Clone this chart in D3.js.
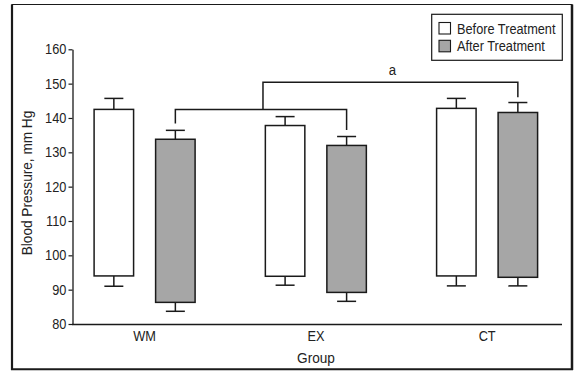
<!DOCTYPE html>
<html><head><meta charset="utf-8">
<script src="https://cdn.jsdelivr.net/npm/d3@7"></script>
<style>
body{margin:0;background:#fff;}
svg{display:block;font-family:"Liberation Sans",Arial,sans-serif;}
</style></head>
<body>
<svg id="chart" width="579" height="380"></svg>
<script>
// ---- data ----
const groups = ["WM", "EX", "CT"];
const seriesNames = ["Before Treatment", "After Treatment"];
const barLow   = { "Before Treatment": [94.0, 93.9, 94.0], "After Treatment": [86.3, 89.2, 93.6] };
const barHigh  = { "Before Treatment": [142.5, 137.8, 142.8], "After Treatment": [133.8, 132.0, 141.6] };
const errLow   = { "Before Treatment": [91.0, 91.3, 91.1], "After Treatment": [83.7, 86.6, 91.1] };
const errHigh  = { "Before Treatment": [145.7, 140.4, 145.7], "After Treatment": [136.4, 134.6, 144.5] };
const yTicks = [80, 90, 100, 110, 120, 130, 140, 150, 160];
const bracketLevels = [142.5, 150.4];
const bracketLegEnds = [[138.4, 136.5], [142.5, 146.0]];
const sigLabel = "a";

// ---- layout ----
const svg = d3.select("#chart");
const fills = { "Before Treatment": "#ffffff", "After Treatment": "#a6a6a6" };
const stroke = "#1a1a1a";
const txt = "#222";
const squeeze = "scale(0.88,1)";

const y = d3.scaleLinear().domain([80, 160]).range([324, 49.3]);
const x0 = d3.scaleBand().domain(groups).range([59, 572.75]).paddingInner(0).paddingOuter(0);
const x1 = d3.scaleBand().domain(seriesNames).range([35.1, 136.1]).paddingInner(0.358).paddingOuter(0);
const cx = (g, s) => x0(g) + x1(s) + x1.bandwidth() / 2;

// frame
svg.append("rect").attr("x", 12).attr("y", 4.5).attr("width", 560).attr("height", 365)
  .attr("fill", "none").attr("stroke", stroke).attr("stroke-width", 1);
svg.append("line").attr("x1", 12).attr("x2", 12).attr("y1", 4.5).attr("y2", 370).attr("stroke", stroke).attr("stroke-width", 2.2);
svg.append("line").attr("x1", 572).attr("x2", 572).attr("y1", 4.5).attr("y2", 370).attr("stroke", stroke).attr("stroke-width", 2.5);
svg.append("line").attr("x1", 11).attr("x2", 573).attr("y1", 369.3).attr("y2", 369.3).attr("stroke", stroke).attr("stroke-width", 2);

// y axis
const yAxis = svg.append("g").attr("transform", "translate(72.5,0)")
  .call(d3.axisLeft(y).tickValues(yTicks).tickSize(4).tickSizeOuter(0).tickPadding(3));
yAxis.select(".domain").attr("stroke", stroke).attr("stroke-width", 1.3);
yAxis.selectAll(".tick line").attr("stroke", stroke).attr("stroke-width", 1.2);
yAxis.selectAll(".tick text").attr("fill", txt).style("font-size", "14.5px")
  .style("font-family", '"Liberation Sans",Arial,sans-serif').attr("transform", squeeze);

// x axis
const xAxis = svg.append("g").attr("transform", "translate(0,324)")
  .call(d3.axisBottom(x0).tickSize(0).tickSizeOuter(0).tickPadding(7));
xAxis.select(".domain").attr("d", "M72,0.5H562").attr("stroke", stroke).attr("stroke-width", 1.3);
xAxis.selectAll(".tick text").attr("fill", txt).style("font-size", "14.5px")
  .style("font-family", '"Liberation Sans",Arial,sans-serif').attr("transform", squeeze);

// axis titles
svg.append("text").attr("transform", `translate(316,362.5) ${squeeze}`).attr("text-anchor", "middle")
  .attr("fill", txt).style("font-size", "15.5px").text("Group");
svg.append("text").attr("transform", `translate(31.5,183) rotate(-90) ${squeeze}`).attr("text-anchor", "middle")
  .attr("fill", txt).style("font-size", "15.5px").text("Blood Pressure, mm Hg");

// bars + error bars
const rows = [];
groups.forEach((g, i) => seriesNames.forEach(s => rows.push({
  g, s, lo: barLow[s][i], hi: barHigh[s][i], eLo: errLow[s][i], eHi: errHigh[s][i]
})));
const capW = 9.5;
const eb = svg.append("g").attr("stroke", stroke).attr("stroke-width", 1.5);
rows.forEach(d => {
  const c = cx(d.g, d.s);
  eb.append("line").attr("x1", c).attr("x2", c).attr("y1", y(d.hi)).attr("y2", y(d.eHi));
  eb.append("line").attr("x1", c - capW).attr("x2", c + capW).attr("y1", y(d.eHi)).attr("y2", y(d.eHi));
  eb.append("line").attr("x1", c).attr("x2", c).attr("y1", y(d.lo)).attr("y2", y(d.eLo));
  eb.append("line").attr("x1", c - capW).attr("x2", c + capW).attr("y1", y(d.eLo)).attr("y2", y(d.eLo));
});
svg.append("g").selectAll("rect").data(rows).join("rect")
  .attr("x", d => x0(d.g) + x1(d.s))
  .attr("width", x1.bandwidth())
  .attr("y", d => y(d.hi))
  .attr("height", d => y(d.lo) - y(d.hi))
  .attr("fill", d => fills[d.s])
  .attr("stroke", stroke).attr("stroke-width", 1.5);

// significance brackets
const bg = svg.append("g").attr("fill", "none").attr("stroke", stroke).attr("stroke-width", 1.5);
const bxL1 = cx("WM", "After Treatment"), bxR1 = cx("EX", "After Treatment");
bg.append("path").attr("d",
  `M${bxL1},${y(bracketLegEnds[0][0])}V${y(bracketLevels[0])}H${bxR1}V${y(bracketLegEnds[0][1])}`);
const bxL2 = (bxL1 + bxR1) / 2 + 2, bxR2 = cx("CT", "After Treatment");
bg.append("path").attr("d",
  `M${bxL2},${y(bracketLegEnds[1][0])}V${y(bracketLevels[1])}H${bxR2}V${y(bracketLegEnds[1][1])}`);
svg.append("text").attr("transform", `translate(${(bxL2 + bxR2) / 2 + 2},${y(bracketLevels[1]) - 7}) ${squeeze}`)
  .attr("text-anchor", "middle").attr("fill", txt).style("font-size", "15px").text(sigLabel);

// legend
const lg = svg.append("g");
lg.append("rect").attr("x", 431.7).attr("y", 14.3).attr("width", 130.6).attr("height", 46)
  .attr("fill", "#fff").attr("stroke", stroke).attr("stroke-width", 1.2);
seriesNames.forEach((s, i) => {
  lg.append("rect").attr("x", 439).attr("y", 22.5 + i * 17.8).attr("width", 11.5).attr("height", 11.5)
    .attr("fill", fills[s]).attr("stroke", stroke).attr("stroke-width", 1.1);
  lg.append("text").attr("transform", `translate(457,${33.5 + i * 17.8}) ${squeeze}`).attr("fill", txt)
    .style("font-size", "14.5px").text(s);
});
</script>
</body></html>
